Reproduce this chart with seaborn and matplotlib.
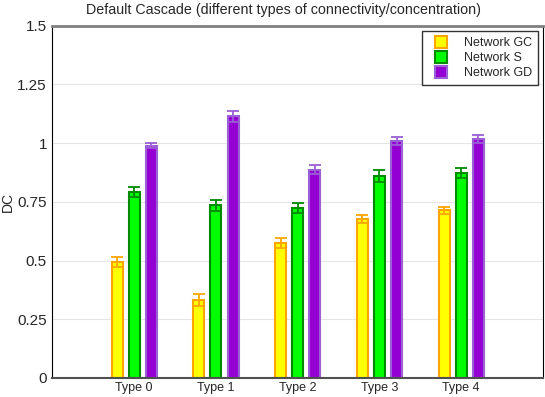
import pandas as pd
import numpy as np
import matplotlib
matplotlib.use("Agg")
import matplotlib.pyplot as plt
from matplotlib.lines import Line2D
import seaborn as sns

# data
types = ["Type 0", "Type 1", "Type 2", "Type 3", "Type 4"]
networks = ["Network GC", "Network S", "Network GD"]
gc = [0.493, 0.332, 0.575, 0.678, 0.715]
gc_err = [0.022, 0.027, 0.021, 0.018, 0.015]
s = [0.792, 0.735, 0.724, 0.860, 0.873]
s_err = [0.023, 0.024, 0.021, 0.026, 0.020]
gd = [0.990, 1.114, 0.887, 1.010, 1.018]
gd_err = [0.012, 0.022, 0.018, 0.017, 0.016]

face_colors = ["#FFFF00", "#00FF00", "#9400D3"]
edge_colors = ["#FFA500", "#008A00", "#9B5FD6"]

df = pd.DataFrame({
    "type": types * 3,
    "network": np.repeat(networks, len(types)),
    "DC": gc + s + gd,
})
errs = [gc_err, s_err, gd_err]

sns.set_style("white")
plt.rcParams["font.family"] = ["Liberation Sans", "DejaVu Sans"]

fig = plt.figure(figsize=(5.45, 3.97), dpi=100)
ax = fig.add_axes([0.0963, 0.048, 0.9, 0.887])

sns.barplot(data=df, x="type", y="DC", hue="network", palette=face_colors,
            width=0.63, gap=0.36, errorbar=None, ax=ax, linewidth=1.5,
            legend=False)

bar_groups = list(ax.containers)
for i, cont in enumerate(bar_groups):
    xs = []
    for bar in cont:
        bar.set_facecolor(face_colors[i])
        bar.set_edgecolor(edge_colors[i])
        xs.append(bar.get_x() + bar.get_width() / 2)
    ax.errorbar(xs, [b.get_height() for b in cont], yerr=errs[i], fmt="none",
                ecolor=edge_colors[i], elinewidth=1.3, capsize=4, capthick=1.3,
                zorder=5)

# square markers inside a wider handle box give the roomy legend look
handles = [Line2D([], [], linestyle="none", marker="s", markersize=9,
                  markerfacecolor=face_colors[i], markeredgecolor=edge_colors[i],
                  markeredgewidth=1.5, label=networks[i]) for i in range(3)]
leg = ax.legend(handles=handles, loc="upper right", fontsize=9, frameon=True,
                fancybox=False, edgecolor="black", handlelength=2.0,
                handletextpad=0.8, borderpad=0.5, labelspacing=0.25,
                borderaxespad=0, bbox_to_anchor=(0.99, 0.986))
leg.get_frame().set_linewidth(1.0)

ax.set_xlim(-1, 5)
ax.set_ylim(0, 1.5)
ax.set_yticks([0, 0.25, 0.5, 0.75, 1, 1.25, 1.5])
ax.set_yticklabels(["0", "0.25", "0.5", "0.75", "1", "1.25", "1.5"], fontsize=11)
ax.tick_params(axis="x", labelsize=9, length=0, pad=3)
ax.tick_params(axis="y", length=0, pad=4)
ax.yaxis.grid(True, color="#e6e6e6", linewidth=0.8)
ax.set_axisbelow(True)
ax.set_xlabel("")
ax.set_ylabel("DC", fontsize=10, labelpad=2)
fig.text(0.52, 0.975, "Default Cascade (different types of connectivity/concentration)",
         fontsize=10.3, ha="center", va="center")

ax.spines["top"].set_color("#808080")
ax.spines["top"].set_linewidth(2)
ax.spines["bottom"].set_color("#505050")
ax.spines["bottom"].set_linewidth(1.5)
ax.spines["left"].set_color("black")
ax.spines["right"].set_color("black")

fig.savefig("out.png", dpi=100)
